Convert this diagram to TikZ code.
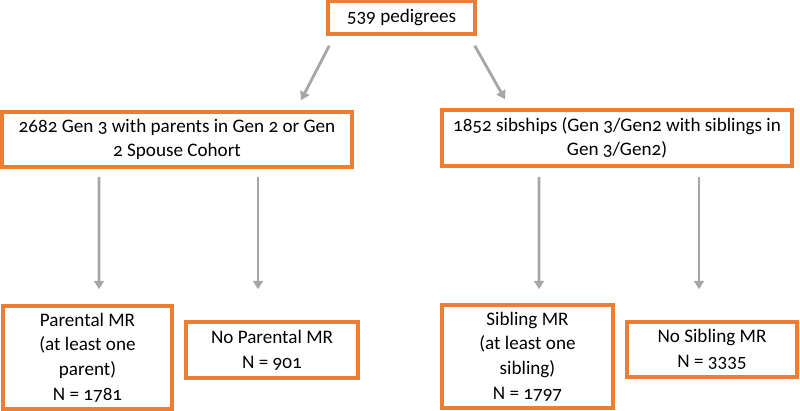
\documentclass[tikz,border=0pt]{standalone}
\usepackage{fontspec}
\setmainfont[Numbers=OldStyle]{Carlito}
\usetikzlibrary{calc,arrows.meta}
\definecolor{boxorange}{HTML}{ED7D31}
\definecolor{arrowgray}{HTML}{A6A6A6}
\begin{document}
\begin{tikzpicture}[x=0.025cm,y=-0.025cm,
    box/.style={draw=boxorange,line width=2.5pt,inner sep=0pt,align=center,
        font=\fontsize{13.6}{17.5}\selectfont},
    size/.style 2 args={minimum width=#1*0.025cm,minimum height=#2*0.025cm},
    arrow/.style={draw=arrowgray,line width=2pt,-{Triangle[length=6pt,width=7pt]}}]
\useasboundingbox (0,0) rectangle (800,411);
% boxes
\node[box,size={147}{33}] (ped) at (401.5,17.5) {539 pedigrees};
\node[box,size={350}{55}] (gen) at (177,139.5)
    {2682 Gen 3 with parents in Gen 2 or Gen\\2 Spouse Cohort};
\node[box,size={350}{56}] (sib) at (617,138)
    {1852 sibships (Gen 3/Gen2 with siblings in\\Gen 3/Gen2)};
\node[box,size={169}{103}] (par) at (87.5,357.5)
    {Parental MR\\(at least one\\parent)\\N = 1781};
\node[box,size={172}{56}] (nopar) at (272,350)
    {No Parental MR\\N = 901};
\node[box,size={171}{103}] (sibmr) at (527.5,356.5)
    {Sibling MR\\(at least one\\sibling)\\N = 1797};
\node[box,size={170}{55}] (nosib) at (712,349.5)
    {No Sibling MR\\N = 3335};
% arrows
\draw[arrow] ($(ped.south west)+(3,10)$) -- ($(gen.north)+(124,-10)$);
\draw[arrow] ($(ped.south east)+(-2,10)$) -- ($(sib.north)+(-112,-9)$);
\draw[arrow] ($(gen.south)+(-78,8)$) -- ($(par.north)+(11.5,-15)$);
\draw[arrow] ($(gen.south)+(81,8)$) -- ($(nopar.north)+(-14,-31)$);
\draw[arrow] ($(sib.south)+(-78,9)$) -- ($(sibmr.north)+(11.5,-14)$);
\draw[arrow] ($(sib.south)+(82,9)$) -- ($(nosib.north)+(-13,-31)$);
\end{tikzpicture}
\end{document}
